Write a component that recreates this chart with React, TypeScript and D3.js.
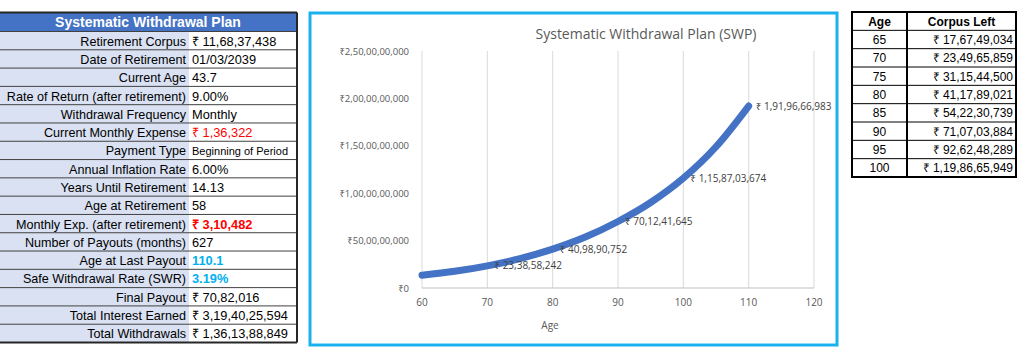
import React from "react";
import * as d3 from "d3";

// ---- left summary table ----
const planLabels = [
  "Retirement Corpus",
  "Date of Retirement",
  "Current Age",
  "Rate of Return (after retirement)",
  "Withdrawal Frequency",
  "Current Monthly Expense",
  "Payment Type",
  "Annual Inflation Rate",
  "Years Until Retirement",
  "Age at Retirement",
  "Monthly Exp. (after retirement)",
  "Number of Payouts (months)",
  "Age at Last Payout",
  "Safe Withdrawal Rate (SWR)",
  "Final Payout",
  "Total Interest Earned",
  "Total Withdrawals",
];
const planValues = [
  "₹ 11,68,37,438",
  "01/03/2039",
  "43.7",
  "9.00%",
  "Monthly",
  "₹ 1,36,322",
  "Beginning of Period",
  "6.00%",
  "14.13",
  "58",
  "₹ 3,10,482",
  "627",
  "110.1",
  "3.19%",
  "₹ 70,82,016",
  "₹ 3,19,40,25,594",
  "₹ 1,36,13,88,849",
];

// ---- right corpus table ----
const tableAges = [65, 70, 75, 80, 85, 90, 95, 100];
const tableCorpus = [
  176749034, 234965859, 311544500, 411789021, 542230739, 710703884, 926248289,
  1198665949,
];

// ---- chart series (age vs corpus) ----
const lineAges = [60, 65, 70, 75, 80, 85, 90, 95, 100, 105, 110];
const lineCorpus = [
  135000000, 176000000, 233858242, 310000000, 409890752, 537000000, 701241645,
  902000000, 1158703674, 1490000000, 1919666983,
];
const labelledAges = [70, 80, 90, 100, 110];
const xTicks = [60, 70, 80, 90, 100, 110, 120];
const yTicks = [0, 500000000, 1000000000, 1500000000, 2000000000, 2500000000];

// Indian digit grouping: 1,19,86,65,949
function inr(n: number) {
  const s = Math.round(n).toString();
  if (s.length <= 3) return s;
  const last = s.slice(-3);
  let rest = s.slice(0, -3);
  const parts: string[] = [];
  while (rest.length > 2) {
    parts.unshift(rest.slice(-2));
    rest = rest.slice(0, -2);
  }
  if (rest) parts.unshift(rest);
  return parts.join(",") + "," + last;
}

const valueStyle = (label: string) => {
  if (label === "Current Monthly Expense") return { fill: "#FF0000" };
  if (label === "Monthly Exp. (after retirement)")
    return { fill: "#FF0000", fontWeight: 700 };
  if (label === "Age at Last Payout" || label === "Safe Withdrawal Rate (SWR)")
    return { fill: "#00B0F0", fontWeight: 700 };
  if (label === "Payment Type") return { fontSize: 11 };
  return {};
};

function LeftTable() {
  const x0 = 0, xMid = 189, x1 = 297;
  const top = 12.5, headH = 19;
  const rowH = (342.5 - top - headH) / planLabels.length;
  const font = "'Liberation Sans', Arial, sans-serif";
  return (
    <g fontFamily={font}>
      <rect x={x0} y={top} width={x1 - x0} height={headH} fill="#4472C4" />
      <text x={148} y={top + headH / 2 + 5} textAnchor="middle" fill="#fff" fontWeight={700} fontSize={14}>
        Systematic Withdrawal Plan
      </text>
      {planLabels.map((lab, i) => {
        const y = top + headH + i * rowH;
        return (
          <g key={lab}>
            <rect x={x0} y={y} width={xMid - x0} height={rowH} fill="#D9E1F2" />
            <rect x={xMid} y={y} width={x1 - xMid} height={rowH} fill="#fff" />
            <line x1={x0} x2={x1} y1={y} y2={y} stroke="#404040" strokeWidth={1} />
            <text x={xMid - 3} y={y + rowH / 2 + 5} textAnchor="end" fontSize={12.6} fill="#000">
              {lab}
            </text>
            <text x={xMid + 3} y={y + rowH / 2 + 5} fontSize={12.8} fill="#000" {...valueStyle(lab)}>
              {planValues[i]}
            </text>
          </g>
        );
      })}
      <line x1={x0} x2={x1} y1={top} y2={top} stroke="#262626" strokeWidth={2} />
      <line x1={x0} x2={x1} y1={342.5} y2={342.5} stroke="#262626" strokeWidth={2} />
      <line x1={x1} x2={x1} y1={top} y2={342.5} stroke="#262626" strokeWidth={2} />
    </g>
  );
}

function RightTable() {
  const x0 = 852, xMid = 907, x1 = 1016;
  const top = 12, bottom = 177;
  const rowH = (bottom - top) / (tableAges.length + 1);
  const font = "'Liberation Sans', Arial, sans-serif";
  return (
    <g fontFamily={font} fontSize={12}>
      <rect x={x0} y={top} width={x1 - x0} height={bottom - top} fill="#fff" />
      <text x={(x0 + xMid) / 2} y={top + rowH / 2 + 4.5} textAnchor="middle" fontWeight={700}>Age</text>
      <text x={(xMid + x1) / 2} y={top + rowH / 2 + 4.5} textAnchor="middle" fontWeight={700}>Corpus Left</text>
      {tableAges.map((a, i) => {
        const y = top + (i + 1) * rowH;
        return (
          <g key={a}>
            <line x1={x0} x2={x1} y1={y} y2={y} stroke="#000" strokeWidth={1} />
            <text x={(x0 + xMid) / 2} y={y + rowH / 2 + 4.5} textAnchor="middle">{a}</text>
            <text x={x1 - 3} y={y + rowH / 2 + 4.5} textAnchor="end">{"₹ " + inr(tableCorpus[i])}</text>
          </g>
        );
      })}
      <line x1={xMid} x2={xMid} y1={top} y2={bottom} stroke="#000" strokeWidth={2} />
      <rect x={x0} y={top} width={x1 - x0} height={bottom - top} fill="none" stroke="#000" strokeWidth={2} />
    </g>
  );
}

function Chart() {
  const x = d3.scaleLinear().domain([60, 120]).range([422, 814]);
  const y = d3.scaleLinear().domain([0, 2500000000]).range([288, 51]);
  const pts = lineAges.map((a, i) => [a, lineCorpus[i]] as [number, number]);
  const path = d3
    .line<[number, number]>()
    .x((d) => x(d[0]))
    .y((d) => y(d[1]))
    .curve(d3.curveMonotoneX)(pts);
  const font = "'Open Sans', 'Noto Sans', sans-serif";
  return (
    <g fontFamily={font}>
      <rect x={310} y={13} width={527} height={332} fill="#fff" stroke="#1AB2EE" strokeWidth={3} />
      <text x={646} y={39} textAnchor="middle" fontSize={14} fill="#595959">
        Systematic Withdrawal Plan (SWP)
      </text>
      {xTicks.map((t) => (
        <g key={t}>
          <line x1={x(t)} x2={x(t)} y1={y(2500000000)} y2={y(0)} stroke="#D9D9D9" strokeWidth={1} />
          <text x={x(t)} y={306} textAnchor="middle" fontSize={10} fill="#595959">{t}</text>
        </g>
      ))}
      <line x1={x(60)} x2={x(120)} y1={y(0)} y2={y(0)} stroke="#BFBFBF" strokeWidth={1} />
      {yTicks.map((t) => (
        <text key={t} x={409} y={y(t) + 3.5} textAnchor="end" fontSize={9.5} fill="#595959">
          {"₹" + inr(t)}
        </text>
      ))}
      <text x={550} y={329} textAnchor="middle" fontSize={10} fill="#595959">Age</text>
      <path d={path || ""} fill="none" stroke="#4472C4" strokeWidth={7} strokeLinecap="round" />
      {labelledAges.map((a) => {
        const v = lineCorpus[lineAges.indexOf(a)];
        return (
          <text key={a} x={x(a) + 7} y={y(v) + 3.5} fontSize={10} fill="#404040">
            {"₹ " + inr(v)}
          </text>
        );
      })}
    </g>
  );
}

export default function App() {
  return (
    <div style={{ position: "fixed", left: 0, top: 0 }}>
      <svg width={1024} height={354} style={{ display: "block", background: "#fff" }}>
        <LeftTable />
        <Chart />
        <RightTable />
      </svg>
    </div>
  );
}
